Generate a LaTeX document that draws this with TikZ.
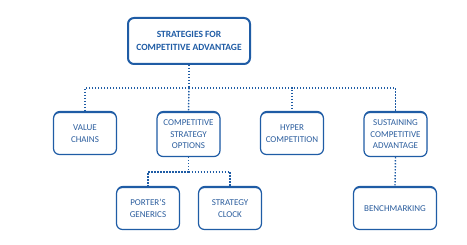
\documentclass[tikz,border=0pt]{standalone}
\usepackage{fontspec}
\setmainfont{Carlito}
\usetikzlibrary{positioning}
\definecolor{stratblue}{HTML}{1F5CA5}
\definecolor{strattext}{HTML}{2C5E9E}
\tikzset{
    every node/.style={font=\fontsize{9}{11.5}\selectfont},
    topbox/.style={rounded corners=6pt,draw=stratblue,line width=2pt,fill=white,text=stratblue,
        align=center,minimum width=122pt,minimum height=46pt,font=\bfseries\fontsize{9.5}{13}\selectfont},
    optbox/.style={rounded corners=6pt,draw=stratblue,line width=1.2pt,fill=white,text=strattext,
        align=center,minimum width=63pt,minimum height=42pt,inner sep=2pt,
        preaction={fill=stratblue,transform canvas={yshift=1.5pt}}},
    link/.style={stratblue,line width=1.4pt,dash pattern=on 1.4pt off 1.6pt}
}
\begin{document}
\begin{tikzpicture}[x=1pt,y=-1pt]
    \useasboundingbox (0,0) rectangle (467,245);
    \node[topbox] (top) at (189,41) {STRATEGIES FOR\\COMPETITIVE ADVANTAGE};
    \node[optbox] (value) at (85,133.5) {VALUE\\CHAINS};
    \node[optbox,minimum height=44pt] (options) at (188.5,134.5) {COMPETITIVE\\STRATEGY\\OPTIONS};
    \node[optbox] (hyper) at (292,133.5) {HYPER\\COMPETITION};
    \node[optbox,minimum height=44pt] (sustain) at (395.5,134.5) {SUSTAINING\\COMPETITIVE\\ADVANTAGE};
    \node[optbox] (porter) at (148,208.5) {PORTER'S\\GENERICS};
    \node[optbox] (clock) at (230,208.5) {STRATEGY\\CLOCK};
    \node[optbox,minimum width=83pt] (bench) at (395,208.5) {BENCHMARKING};
    % connectors
    \coordinate (hub) at (top.south |- 0,88);
    \coordinate (subhub) at (options.south |- 0,172);
    \draw[link] (top.south) -- (hub);
    \draw[link] (hub) -| (value.north);
    \draw[link] (hub) -- (options.north);
    \draw[link] (hub) -| (hyper.north);
    \draw[link] (hub) -| (sustain.north);
    \draw[link] (options.south) -- (subhub);
    \draw[link] (subhub) -| (porter.north);
    \draw[link] (subhub) -| (clock.north);
    \draw[link] (sustain.south) -- (bench.north);
\end{tikzpicture}
\end{document}
